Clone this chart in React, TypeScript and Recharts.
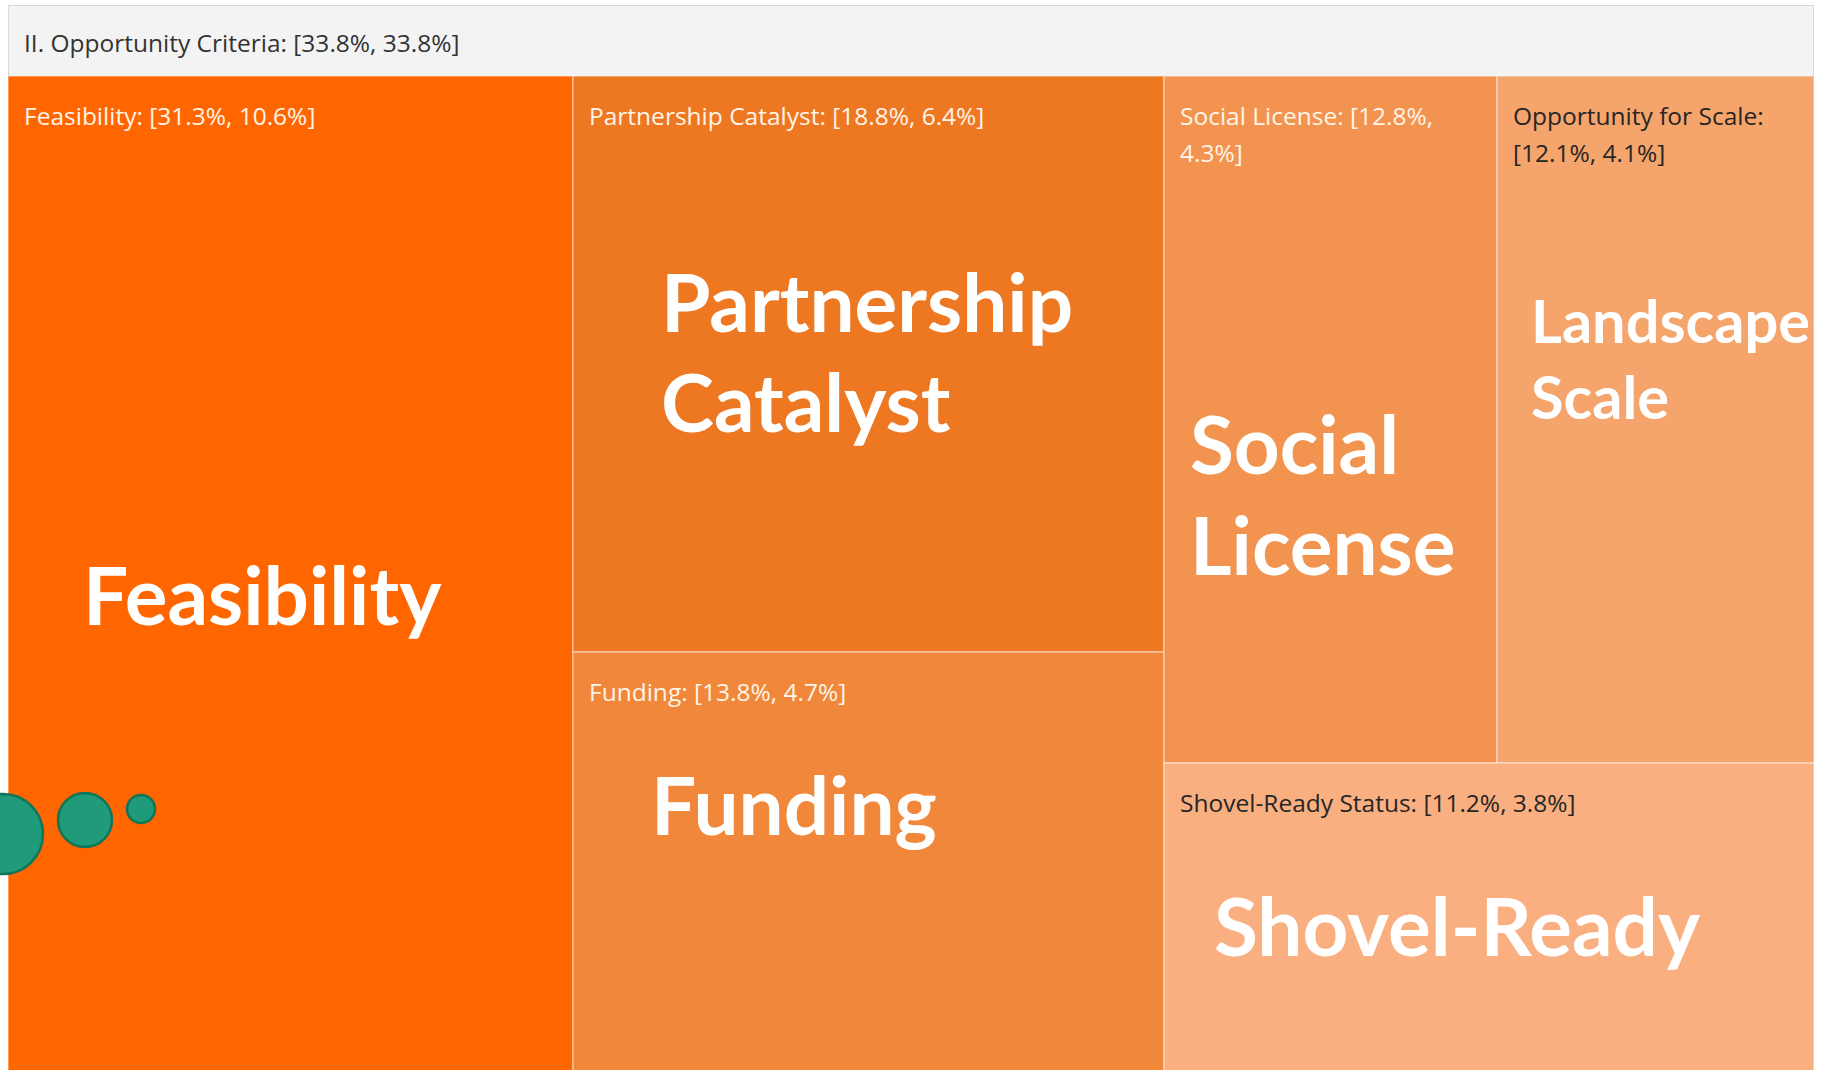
import React from "react";
import { Treemap, ScatterChart, Scatter, XAxis, YAxis } from "recharts";

const groupName = "II. Opportunity Criteria";
const groupShare = [33.8, 33.8];

const criteria = [
    "Feasibility",
    "Partnership Catalyst",
    "Funding",
    "Social License",
    "Opportunity for Scale",
    "Shovel-Ready Status",
];
const shareOfGroup = [31.3, 18.8, 13.8, 12.8, 12.1, 11.2];
const shareOfTotal = [10.6, 6.4, 4.7, 4.3, 4.1, 3.8];
const headlines = [
    ["Feasibility"],
    ["Partnership", "Catalyst"],
    ["Funding"],
    ["Social", "License"],
    ["Landscape", "Scale"],
    ["Shovel-Ready"],
];

// decorative bubbles, in page pixels
const bubbleX = [3, 85, 141];
const bubbleY = [834, 820, 809];
const bubbleR = [40, 27, 14];

const treeData = criteria.map((name, i) => ({
    name,
    size: shareOfTotal[i],
    share: shareOfGroup[i],
}));
const bubbles = bubbleX.map((x, i) => ({ x, y: bubbleY[i], r: bubbleR[i] }));

const fills = ["#FF6600", "#EE7721", "#F0873A", "#F2944F", "#F5A46B", "#F9AF80"];
const labelInk = ["#FFF4E8", "#FFF4E8", "#FFF4E8", "#FFF4E8", "#262626", "#262626"];
const headlineSpot = [
    { dx: 75, dy: 549, size: 80, gap: 0 },
    { dx: 88, dy: 256, size: 80, gap: 100 },
    { dx: 78, dy: 183, size: 80, gap: 0 },
    { dx: 26, dy: 398, size: 80, gap: 101 },
    { dx: 34, dy: 267, size: 59.5, gap: 76 },
    { dx: 50, dy: 193, size: 80, gap: 0 },
];

const smallSize = 24.5;
const smallFont = `${smallSize}px 'Open Sans'`;

let measureCtx: CanvasRenderingContext2D | null = null;
const textWidth = (s: string) => {
    if (!measureCtx) measureCtx = document.createElement("canvas").getContext("2d");
    if (!measureCtx) return s.length * 11;
    measureCtx.font = smallFont;
    return measureCtx.measureText(s).width;
};

const wrap = (text: string, maxW: number) => {
    const words = text.split(" ");
    const lines: string[] = [];
    let cur = "";
    words.forEach((w) => {
        const next = cur ? cur + " " + w : w;
        if (cur && textWidth(next) > maxW) {
            lines.push(cur);
            cur = w;
        } else {
            cur = next;
        }
    });
    if (cur) lines.push(cur);
    return lines;
};

const CriteriaCell = (props: any) => {
    const { x, y, width, height, depth, index, name, share, size } = props;
    if (depth !== 1) return <g />;
    const label = `${name}: [${share.toFixed(1)}%, ${size.toFixed(1)}%]`;
    const lines = wrap(label, width - 30);
    const spot = headlineSpot[index];
    return (
        <g>
            <rect
                x={x}
                y={y}
                width={width}
                height={height}
                fill={fills[index]}
                stroke="rgba(255,255,255,0.45)"
                strokeWidth={1.5}
            />
            {lines.map((ln, i) => (
                <text
                    key={i}
                    x={x + 16}
                    y={y + 49 + i * 37}
                    fill={labelInk[index]}
                    fontSize={smallSize}
                    fontFamily="'Open Sans'"
                >
                    {ln}
                </text>
            ))}
            {headlines[index].map((ln, i) => (
                <text
                    key={"h" + i}
                    x={x + spot.dx}
                    y={y + spot.dy + i * spot.gap}
                    fill="#FFFFFF"
                    fontSize={spot.size}
                    fontWeight={700}
                    fontFamily="Lato"
                >
                    {ln}
                </text>
            ))}
        </g>
    );
};

export default function App() {
    return (
        <div
            style={{
                position: "fixed",
                left: 0,
                top: 0,
                width: 1823,
                height: 1070,
                overflow: "hidden",
                background: "#FFFFFF",
            }}
        >
            <div
                style={{
                    position: "absolute",
                    left: 8,
                    top: 5,
                    width: 1806,
                    height: 71,
                    boxSizing: "border-box",
                    background: "#F3F3F3",
                    border: "1.5px solid #D8D8D8",
                    borderBottom: "none",
                    fontFamily: "'Open Sans'",
                    fontSize: smallSize,
                    color: "#333333",
                    paddingLeft: 15,
                    paddingTop: 4,
                    lineHeight: "66px",
                }}
            >
                {`${groupName}: [${groupShare[0].toFixed(1)}%, ${groupShare[1].toFixed(1)}%]`}
            </div>
            <div style={{ position: "absolute", left: 8, top: 76 }}>
                <Treemap
                    width={1806}
                    height={998}
                    data={treeData}
                    dataKey="size"
                    nameKey="name"
                    aspectRatio={1.12}
                    isAnimationActive={false}
                    content={<CriteriaCell />}
                />
            </div>
            <div style={{ position: "absolute", left: 0, top: 0, pointerEvents: "none" }}>
                <ScatterChart width={1823} height={1070} margin={{ top: 0, right: 0, bottom: 0, left: 0 }}>
                    <XAxis type="number" dataKey="x" domain={[0, 1823]} allowDataOverflow hide />
                    <YAxis type="number" dataKey="y" domain={[0, 1070]} allowDataOverflow reversed hide />
                    <Scatter
                        data={bubbles}
                        isAnimationActive={false}
                        shape={(p: any) => (
                            <circle
                                cx={p.cx}
                                cy={p.cy}
                                r={p.payload.r}
                                fill="#1F9B79"
                                stroke="#117558"
                                strokeWidth={2.5}
                            />
                        )}
                    />
                </ScatterChart>
            </div>
        </div>
    );
}
